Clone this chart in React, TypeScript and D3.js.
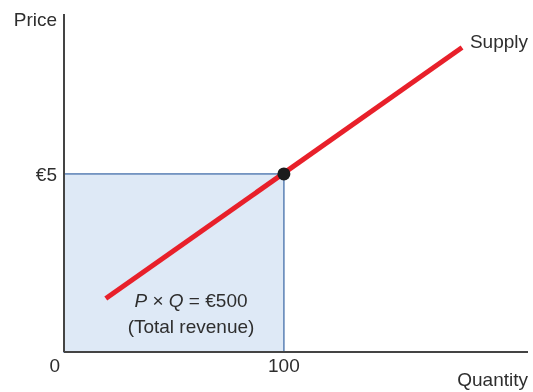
import React, { useEffect, useRef } from "react";
import * as d3 from "d3";

// supply line end points (quantity, price)
const supplyQ = [19, 181];
const supplyP = [1.5, 8.55];

// equilibrium point
const eqQ = 100;
const eqP = 5;

const xTicks = [0, 100];
const yTicks = [5];
const yTickLabels = ["€5"];

const areaLabel = ["P × Q = €500", "(Total revenue)"];

function SupplyChart() {
    const ref = useRef<SVGSVGElement>(null);
    const width = 533;
    const height = 392;

    useEffect(() => {
        drawChart();
    }, []);

    function drawChart() {
        const svg = d3.select(ref.current);
        svg.selectAll("*").remove();

        const margin = { top: 14, right: 5, bottom: 40, left: 64 };
        const font = "'Liberation Sans', Arial, sans-serif";
        const textColor = "#2e2e2e";

        const x = d3.scaleLinear()
            .domain([0, 211])
            .range([margin.left, width - margin.right]);

        const y = d3.scaleLinear()
            .domain([0, 9.49])
            .range([height - margin.bottom, margin.top]);

        // total revenue rectangle
        svg.append("rect")
            .attr("x", x(0))
            .attr("y", y(eqP))
            .attr("width", x(eqQ) - x(0))
            .attr("height", y(0) - y(eqP))
            .attr("fill", "#dee9f6")
            .attr("stroke", "#5a80b5")
            .attr("stroke-width", 1.5);

        // axes
        svg.append("line")
            .attr("x1", x(0)).attr("x2", x(0))
            .attr("y1", y(9.49)).attr("y2", y(0))
            .attr("stroke", "#444")
            .attr("stroke-width", 2);

        svg.append("line")
            .attr("x1", x(0)).attr("x2", x(211))
            .attr("y1", y(0)).attr("y2", y(0))
            .attr("stroke", "#444")
            .attr("stroke-width", 2);

        // supply line
        const line = d3.line<number>()
            .x(d => x(supplyQ[d]))
            .y(d => y(supplyP[d]));

        svg.append("path")
            .attr("d", line([0, 1]))
            .attr("fill", "none")
            .attr("stroke", "#e8202a")
            .attr("stroke-width", 5);

        svg.append("circle")
            .attr("cx", x(eqQ))
            .attr("cy", y(eqP))
            .attr("r", 6.5)
            .attr("fill", "#1c1c1c");

        const txt = (sel: any) => sel
            .attr("font-family", font)
            .attr("font-size", 19)
            .attr("fill", textColor);

        // tick labels
        svg.selectAll(".xt")
            .data(xTicks)
            .enter()
            .append("text")
            .call(txt)
            .attr("x", d => d === 0 ? x(d) - 4 : x(d))
            .attr("y", y(0) + 20)
            .attr("text-anchor", d => d === 0 ? "end" : "middle")
            .text(d => d);

        svg.selectAll(".yt")
            .data(yTicks)
            .enter()
            .append("text")
            .call(txt)
            .attr("x", x(0) - 7)
            .attr("y", d => y(d) + 7)
            .attr("text-anchor", "end")
            .text((d, i) => yTickLabels[i]);

        // axis titles
        svg.append("text").call(txt)
            .attr("x", x(0) - 7)
            .attr("y", 26)
            .attr("text-anchor", "end")
            .text("Price");

        svg.append("text").call(txt)
            .attr("x", width - 5)
            .attr("y", 386)
            .attr("text-anchor", "end")
            .text("Quantity");

        svg.append("text").call(txt)
            .attr("x", width - 5)
            .attr("y", 48)
            .attr("text-anchor", "end")
            .text("Supply");

        // area label
        const lbl = svg.append("text").call(txt)
            .attr("text-anchor", "middle");
        const first = lbl.append("tspan")
            .attr("x", 191)
            .attr("y", 307);
        first.append("tspan").attr("font-style", "italic").text("P");
        first.append("tspan").text(" × ");
        first.append("tspan").attr("font-style", "italic").text("Q");
        first.append("tspan").text(areaLabel[0].slice(5));
        lbl.append("tspan")
            .attr("x", 191)
            .attr("y", 333)
            .text(areaLabel[1]);
    }

    return (
        <svg
            ref={ref}
            width={width}
            height={height}
            style={{ position: "fixed", left: 0, top: 0, display: "block" }}
        />
    );
}

export default function App() {
    return <SupplyChart />;
}
